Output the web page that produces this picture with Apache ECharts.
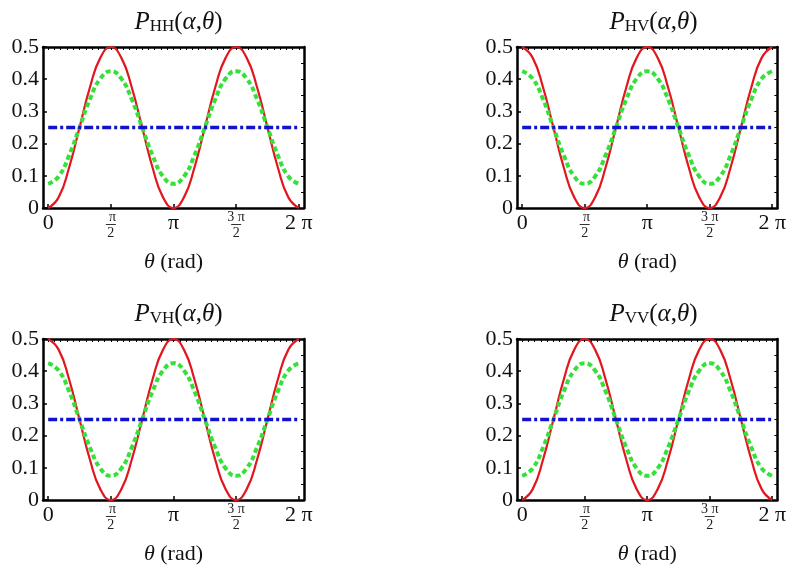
<!DOCTYPE html>
<html>
<head>
<meta charset="utf-8">
<script src="https://cdn.jsdelivr.net/npm/echarts@6/dist/echarts.min.js"></script>
<style>
html,body{margin:0;padding:0;background:#fff;}
#chart{width:789px;height:572px;}
</style>
</head>
<body>
<div id="chart"></div>
<script>
// ---- data ----
const theta = [0, 0.2618, 0.5236, 0.7854, 1.0472, 1.3090, 1.5708, 1.8326, 2.0944, 2.3562, 2.6180, 2.8798, 3.1416,
               3.4034, 3.6652, 3.9270, 4.1888, 4.4506, 4.7124, 4.9742, 5.2360, 5.4978, 5.7596, 6.0214, 6.2832];
// red solid curves
const redHH = [0, 0.033, 0.125, 0.25, 0.375, 0.467, 0.5, 0.467, 0.375, 0.25, 0.125, 0.033, 0,
               0.033, 0.125, 0.25, 0.375, 0.467, 0.5, 0.467, 0.375, 0.25, 0.125, 0.033, 0];
const redHV = [0.5, 0.467, 0.375, 0.25, 0.125, 0.033, 0, 0.033, 0.125, 0.25, 0.375, 0.467, 0.5,
               0.467, 0.375, 0.25, 0.125, 0.033, 0, 0.033, 0.125, 0.25, 0.375, 0.467, 0.5];
const redVH = [0.5, 0.467, 0.375, 0.25, 0.125, 0.033, 0, 0.033, 0.125, 0.25, 0.375, 0.467, 0.5,
               0.467, 0.375, 0.25, 0.125, 0.033, 0, 0.033, 0.125, 0.25, 0.375, 0.467, 0.5];
const redVV = [0, 0.033, 0.125, 0.25, 0.375, 0.467, 0.5, 0.467, 0.375, 0.25, 0.125, 0.033, 0,
               0.033, 0.125, 0.25, 0.375, 0.467, 0.5, 0.467, 0.375, 0.25, 0.125, 0.033, 0];
// green dashed curves
const greenHH = [0.075, 0.098, 0.163, 0.25, 0.338, 0.402, 0.425, 0.402, 0.338, 0.25, 0.163, 0.098, 0.075,
                 0.098, 0.163, 0.25, 0.338, 0.402, 0.425, 0.402, 0.338, 0.25, 0.163, 0.098, 0.075];
const greenHV = [0.425, 0.402, 0.338, 0.25, 0.163, 0.098, 0.075, 0.098, 0.163, 0.25, 0.338, 0.402, 0.425,
                 0.402, 0.338, 0.25, 0.163, 0.098, 0.075, 0.098, 0.163, 0.25, 0.338, 0.402, 0.425];
const greenVH = [0.425, 0.402, 0.338, 0.25, 0.163, 0.098, 0.075, 0.098, 0.163, 0.25, 0.338, 0.402, 0.425,
                 0.402, 0.338, 0.25, 0.163, 0.098, 0.075, 0.098, 0.163, 0.25, 0.338, 0.402, 0.425];
const greenVV = [0.075, 0.098, 0.163, 0.25, 0.338, 0.402, 0.425, 0.402, 0.338, 0.25, 0.163, 0.098, 0.075,
                 0.098, 0.163, 0.25, 0.338, 0.402, 0.425, 0.402, 0.338, 0.25, 0.163, 0.098, 0.075];
// blue dash-dot constant
const blueAll = [0.25, 0.25, 0.25, 0.25, 0.25, 0.25, 0.25, 0.25, 0.25, 0.25, 0.25, 0.25, 0.25,
                 0.25, 0.25, 0.25, 0.25, 0.25, 0.25, 0.25, 0.25, 0.25, 0.25, 0.25, 0.25];
const panelSubs = ['HH', 'HV', 'VH', 'VV'];
const xTickValues = [0, 1.5708, 3.1416, 4.7124, 6.2832];
const xTickLabels = ['0', 'π/2', 'π', '3π/2', '2π'];
const yTickValues = [0, 0.1, 0.2, 0.3, 0.4, 0.5];
const yTickLabels = ['0', '0.1', '0.2', '0.3', '0.4', '0.5'];

// ---- layout / styles ----
const FONT = "'Liberation Serif','Times New Roman',serif";
const reds = [redHH, redHV, redVH, redVV];
const greens = [greenHH, greenHV, greenVH, greenVV];
const grids = [
  {left: 43, top: 47, width: 261, height: 161},
  {left: 517, top: 47, width: 263, height: 161},
  {left: 43, top: 339, width: 261, height: 161},
  {left: 517, top: 339, width: 263, height: 161}
];
const XMIN = -0.13, XMAX = 6.2832 + 0.13;

function pair(arr) { return theta.map((t, i) => [t, arr[i]]); }

const minorTop = [];
for (let v = 0; v <= 6.3; v += 0.15708) minorTop.push(v);
const minorRight = [];
for (let v = 0; v <= 0.5001; v += 0.05) minorRight.push(+v.toFixed(2));

function xLabelFmt(v) {
  let idx = 0, best = 1e9;
  xTickValues.forEach((t, i) => { if (Math.abs(t - v) < best) { best = Math.abs(t - v); idx = i; } });
  const s = xTickLabels[idx];
  if (s.indexOf('/') >= 0) {
    const [n, d] = s.split('/');
    return '{n|' + n.replace('π', ' π') + '}\n{bar| }\n{d|' + d + '}';
  }
  return '{m|' + s.replace('π', ' π').trim() + '}';
}

const option = {
  animation: false,
  backgroundColor: '#fff',
  title: [],
  grid: [],
  xAxis: [],
  yAxis: [],
  series: []
};

grids.forEach((g, k) => {
  option.grid.push(Object.assign({containLabel: false}, g));
  const base = {fontFamily: FONT, fontWeight: 'normal', color: '#111', verticalAlign: 'bottom'};
  option.title.push({
    text: '{p|P}{s|' + panelSubs[k] + '}{r|(}{i|α}{r|,}{i|θ}{r|)}',
    left: g.left + g.width / 2,
    top: g.top - 47,
    textAlign: 'center',
    textStyle: {
      fontWeight: 'normal',
      rich: {
        p: Object.assign({}, base, {fontStyle: 'italic', fontSize: 25, lineHeight: 30}),
        s: Object.assign({}, base, {fontSize: 17, lineHeight: 20}),
        r: Object.assign({}, base, {fontSize: 25, lineHeight: 30}),
        i: Object.assign({}, base, {fontStyle: 'italic', fontSize: 25, lineHeight: 30})
      }
    }
  });
  // bottom x axis
  option.xAxis.push({
    type: 'value', gridIndex: k, min: XMIN, max: XMAX, position: 'bottom',
    splitLine: {show: false},
    axisLine: {show: true, onZero: false, lineStyle: {color: '#000', width: 2.5}},
    axisTick: {show: true, inside: true, length: 4, customValues: xTickValues, lineStyle: {color: '#000', width: 1.5}},
    axisLabel: {
      show: true, margin: 3, customValues: xTickValues, formatter: xLabelFmt,
      rich: {
        m: {fontFamily: FONT, fontSize: 22, lineHeight: 24, color: '#111'},
        n: {fontFamily: FONT, fontSize: 14, lineHeight: 12, color: '#222', align: 'center'},
        bar: {height: 1, width: 10, backgroundColor: '#333', lineHeight: 3, fontSize: 2, align: 'center'},
        d: {fontFamily: FONT, fontSize: 14, lineHeight: 14, color: '#222', align: 'center'}
      }
    },
    name: '{i|θ} (rad)',
    nameLocation: 'middle',
    nameGap: 43,
    nameTextStyle: {
      fontFamily: FONT, fontSize: 22, color: '#111',
      rich: {i: {fontFamily: FONT, fontStyle: 'italic', fontSize: 22, color: '#111'}}
    }
  });
  // top frame x axis
  option.xAxis.push({
    type: 'value', gridIndex: k, min: XMIN, max: XMAX, position: 'top',
    splitLine: {show: false},
    axisLine: {show: true, onZero: false, lineStyle: {color: '#000', width: 2.5}},
    axisTick: {show: true, inside: true, length: 3, customValues: minorTop, lineStyle: {color: '#000', width: 1}},
    axisLabel: {show: false}
  });
  // left y axis
  option.yAxis.push({
    type: 'value', gridIndex: k, min: 0, max: 0.5, interval: 0.1, position: 'left',
    splitLine: {show: false},
    axisLine: {show: true, onZero: false, lineStyle: {color: '#000', width: 2.5}},
    axisTick: {show: true, inside: true, length: 4, lineStyle: {color: '#000', width: 1.5}},
    axisLabel: {
      show: true, margin: 4, fontFamily: FONT, fontSize: 22, color: '#111',
      formatter: v => { const i = yTickValues.findIndex(t => Math.abs(t - v) < 1e-6); return i >= 0 ? yTickLabels[i] : ''; }
    }
  });
  // right frame y axis
  option.yAxis.push({
    type: 'value', gridIndex: k, min: 0, max: 0.5, interval: 0.1, position: 'right',
    splitLine: {show: false},
    axisLine: {show: true, onZero: false, lineStyle: {color: '#000', width: 2.5}},
    axisTick: {show: true, inside: true, length: 3, customValues: minorRight, lineStyle: {color: '#000', width: 1}},
    axisLabel: {show: false}
  });
  const xi = k * 2, yi = k * 2;
  option.series.push({
    type: 'line', xAxisIndex: xi, yAxisIndex: yi, data: pair(reds[k]), smooth: 0.5,
    showSymbol: false, symbol: 'none', clip: true,
    lineStyle: {color: '#e2161e', width: 2.2, type: 'solid'}
  });
  option.series.push({
    type: 'line', xAxisIndex: xi, yAxisIndex: yi, data: pair(greens[k]), smooth: 0.5,
    showSymbol: false, symbol: 'none', clip: true,
    lineStyle: {color: '#36e03a', width: 4, type: [5, 3]}
  });
  option.series.push({
    type: 'line', xAxisIndex: xi, yAxisIndex: yi, data: pair(blueAll),
    showSymbol: false, symbol: 'none', clip: true,
    lineStyle: {color: '#1212cc', width: 3.5, type: [9, 3, 3, 3]}
  });
});

const chart = echarts.init(document.getElementById('chart'), null, {renderer: 'canvas'});
chart.setOption(option);
</script>
</body>
</html>
